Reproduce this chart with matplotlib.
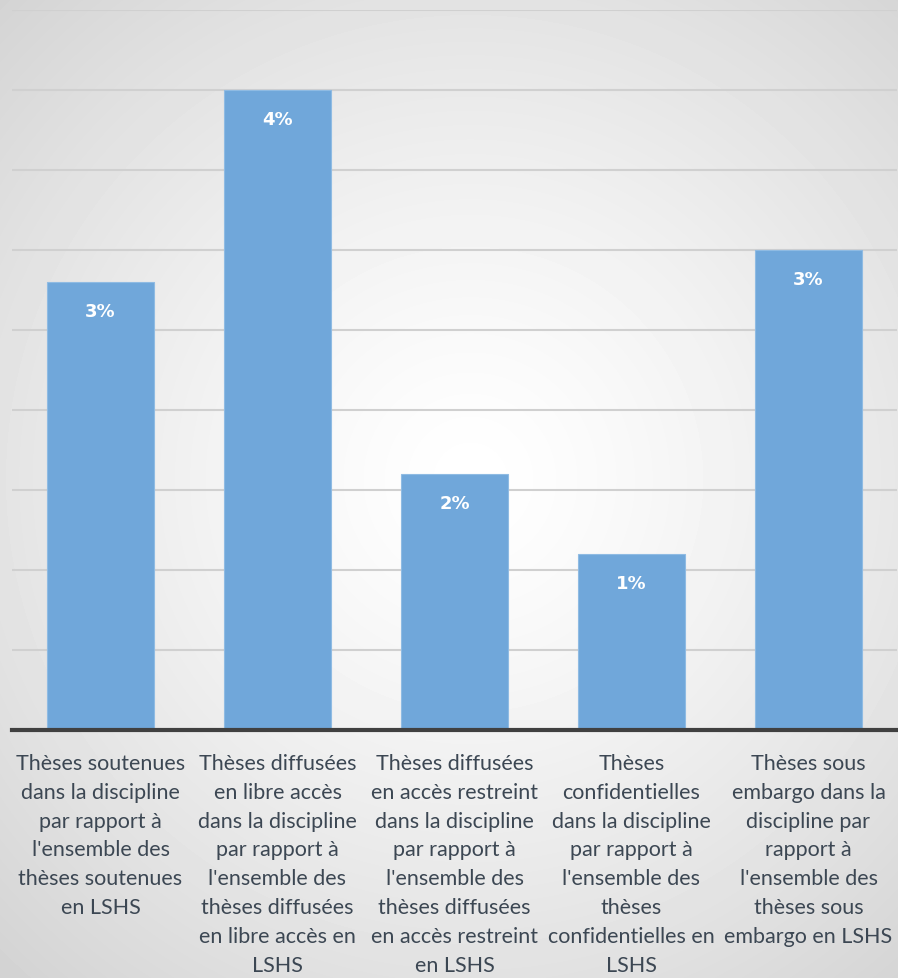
import matplotlib
matplotlib.use("Agg")
import matplotlib.pyplot as plt
import numpy as np

categories = [
    "Thèses soutenues\ndans la discipline\npar rapport à\nl'ensemble des\nthèses soutenues\nen LSHS",
    "Thèses diffusées\nen libre accès\ndans la discipline\npar rapport à\nl'ensemble des\nthèses diffusées\nen libre accès en\nLSHS",
    "Thèses diffusées\nen accès restreint\ndans la discipline\npar rapport à\nl'ensemble des\nthèses diffusées\nen accès restreint\nen LSHS",
    "Thèses\nconfidentielles\ndans la discipline\npar rapport à\nl'ensemble des\nthèses\nconfidentielles en\nLSHS",
    "Thèses sous\nembargo dans la\ndiscipline par\nrapport à\nl'ensemble des\nthèses sous\nembargo en LSHS",
]
values = [2.8, 4.0, 1.6, 1.1, 3.0]  # percent

W, H = 898, 979
fig = plt.figure(figsize=(W / 100, H / 100), dpi=100)

# radial grey-to-white background
bg = fig.add_axes([0, 0, 1, 1])
yy, xx = np.mgrid[0:H, 0:W]
r = np.hypot((xx - 470) / 640, (yy - 480) / 640)
shade = np.clip(1.0 - 0.16 * r ** 1.3, 0.8, 1.0)
bg.imshow(shade, cmap="gray", vmin=0, vmax=1, aspect="auto", interpolation="bilinear")
bg.axis("off")

ax = fig.add_axes([12 / W, (H - 731) / H, 885 / W, 720 / H])
ax.patch.set_alpha(0)
x = np.arange(len(values))
bars = ax.bar(x, values, width=0.6, color="#70a7da", edgecolor="#8fbbe3", linewidth=0.8, zorder=3)
ax.set_xlim(-0.5, len(values) - 0.5)
ax.set_ylim(0, 4.5)
ax.set_yticks(np.arange(0.5, 4.51, 0.5))
ax.yaxis.grid(True, color="#d0d0d0", linewidth=1.5, zorder=0)
ax.tick_params(axis="y", left=False, labelleft=False)
ax.tick_params(axis="x", bottom=False, pad=13)
for s in ["top", "right", "left"]:
    ax.spines[s].set_visible(False)
ax.spines["bottom"].set_color("#404040")
ax.spines["bottom"].set_linewidth(3)
ax.spines["bottom"].set_zorder(4)

ax.set_xticks(x)
ax.set_xticklabels(categories, fontsize=15.5, color="#3c4753", family=["Lato", "DejaVu Sans"],
                   linespacing=1.55, va="top")

for b, v in zip(bars, values):
    ax.text(b.get_x() + b.get_width() / 2, v - 0.18, f"{v:.0f}%", ha="center", va="center",
            color="white", fontsize=13, fontweight="bold", zorder=5)

fig.savefig("out.png", dpi=100)
